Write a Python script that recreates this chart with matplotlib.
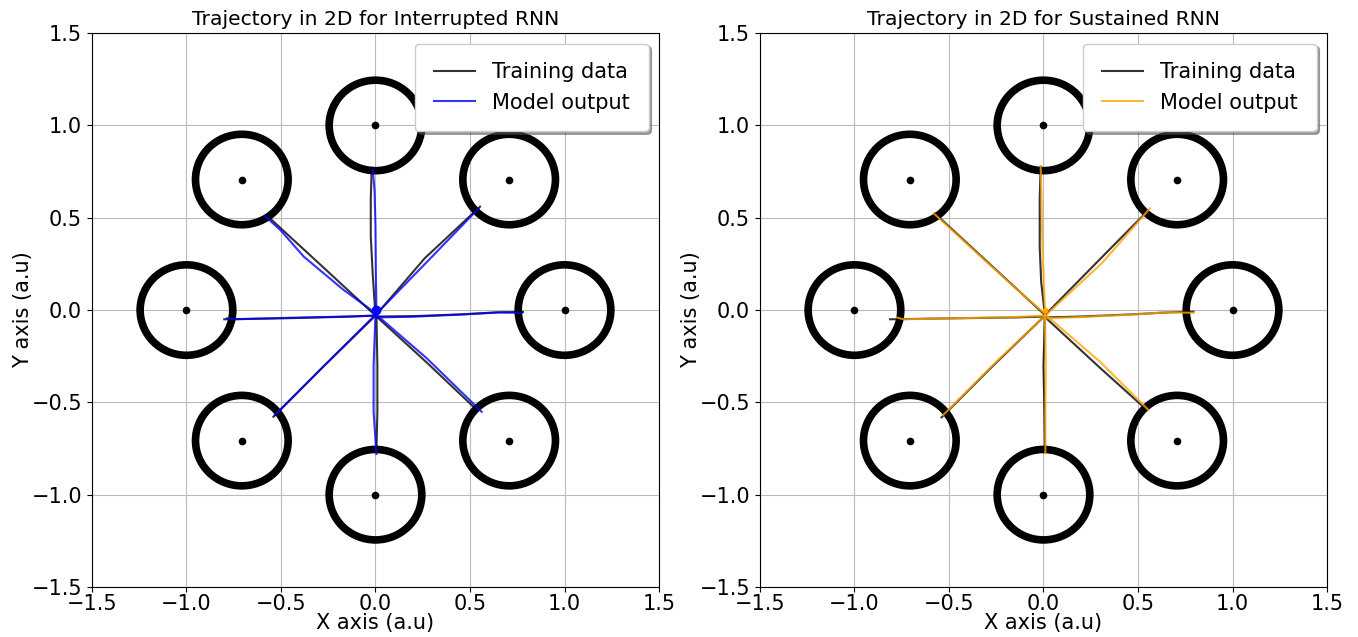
import numpy as np
import matplotlib
matplotlib.use("Agg")
import matplotlib.pyplot as plt
from matplotlib.patches import Circle

# target layout: 8 targets on the unit circle, each with a ring around it
target_angles = [0, 45, 90, 135, 180, 225, 270, 315]
target_dist = 1.0
ring_radius = 0.245

# trajectories, one (xs, ys) pair per reach direction
# order: right, up-right, up, up-left, left, down-left, down, down-right
train_interrupted = [
    ([0.0, 0.2, 0.46, 0.65, 0.78], [-0.035, -0.033, -0.023, -0.012, -0.01]),
    ([0.0, 0.26, 0.553], [-0.03, 0.28, 0.56]),
    ([0.0, -0.015, -0.025, -0.025, -0.02], [-0.03, 0.2, 0.4, 0.6, 0.77]),
    ([0.0, -0.28, -0.567], [-0.03, 0.235, 0.505]),
    ([0.0, -0.15, -0.5, -0.8], [-0.03, -0.036, -0.045, -0.05]),
    ([0.0, -0.27, -0.54], [-0.03, -0.30, -0.578]),
    ([0.005, 0.01, 0.01, 0.005], [-0.03, -0.3, -0.55, -0.765]),
    ([0.0, 0.27, 0.53], [-0.03, -0.283, -0.535]),
]
model_interrupted = [
    ([0.005, 0.2, 0.46, 0.65, 0.775], [-0.04, -0.036, -0.024, -0.013, -0.015]),
    ([0.005, 0.30, 0.545], [-0.02, 0.29, 0.55]),
    ([0.005, 0.002, 0.0, -0.005, -0.015], [0.0, 0.2, 0.45, 0.65, 0.76]),
    ([0.005, -0.17, -0.38, -0.50, -0.585], [-0.02, 0.11, 0.29, 0.43, 0.51]),
    ([0.0, -0.15, -0.5, -0.74, -0.787], [-0.03, -0.035, -0.043, -0.05, -0.045]),
    ([0.0, -0.26, -0.532], [-0.025, -0.29, -0.568]),
    ([0.0, -0.01, -0.01, 0.005], [-0.03, -0.3, -0.55, -0.78]),
    ([0.01, 0.27, 0.562], [-0.03, -0.26, -0.551]),
]
train_sustained = [
    ([0.008, 0.2, 0.475, 0.65, 0.793], [-0.04, -0.035, -0.023, -0.013, -0.009]),
    ([0.008, 0.277, 0.546], [-0.027, 0.253, 0.532]),
    ([0.008, -0.012, -0.02, -0.02, -0.015], [-0.03, 0.15, 0.34, 0.6, 0.776]),
    ([0.008, -0.288, -0.574], [-0.027, 0.253, 0.523]),
    ([0.008, -0.15, -0.495, -0.812], [-0.035, -0.04, -0.045, -0.05]),
    ([0.008, -0.27, -0.539], [-0.03, -0.305, -0.581]),
    ([0.008, 0.0, 0.005, 0.008], [-0.03, -0.3, -0.55, -0.767]),
    ([0.01, 0.299, 0.537], [-0.04, -0.313, -0.532]),
]
model_sustained = [
    ([0.008, 0.2, 0.475, 0.65, 0.793], [-0.045, -0.038, -0.024, -0.012, -0.015]),
    ([0.02, 0.308, 0.563], [-0.02, 0.253, 0.551]),
    ([0.008, 0.0, -0.006, -0.01, -0.015], [0.0, 0.2, 0.34, 0.6, 0.78]),
    ([0.008, -0.15, -0.295, -0.58], [-0.02, 0.12, 0.255, 0.523]),
    ([0.008, -0.15, -0.495, -0.74, -0.777], [-0.03, -0.038, -0.045, -0.05, -0.04]),
    ([0.008, -0.26, -0.53], [-0.03, -0.29, -0.568]),
    ([0.008, 0.012, 0.01, 0.01], [-0.03, -0.3, -0.55, -0.775]),
    ([0.01, 0.299, 0.555], [-0.025, -0.28, -0.541]),
]

ticks = [-1.5, -1.0, -0.5, 0.0, 0.5, 1.0, 1.5]

plt.rcParams["font.size"] = 15


def draw_panel(ax, train, model, color, title, blob_size):
    for ang in target_angles:
        tx = target_dist * np.cos(np.radians(ang))
        ty = target_dist * np.sin(np.radians(ang))
        ax.add_patch(Circle((tx, ty), ring_radius, fill=False, ec="black", lw=5.5, zorder=2))
        ax.plot(tx, ty, "o", color="black", ms=4.5, zorder=3)

    for i, (xs, ys) in enumerate(train):
        ax.plot(xs, ys, color="black", lw=1.5, alpha=0.8, zorder=4,
                label="Training data" if i == 0 else None)
    for i, (xs, ys) in enumerate(model):
        ax.plot(xs, ys, color=color, lw=1.5, alpha=0.8, zorder=5,
                label="Model output" if i == 0 else None)
    # start of the upward reach marks the common origin
    ax.plot(model[2][0][0], model[2][1][0], "o", color=color, ms=blob_size, zorder=6)

    ax.set_xlim(-1.5, 1.5)
    ax.set_ylim(-1.5, 1.5)
    ax.set_xticks(ticks)
    ax.set_yticks(ticks)
    ax.tick_params(axis="x", pad=1.5)
    ax.grid(True, color="#bbbbbb", lw=0.8)
    ax.set_axisbelow(True)
    ax.set_title(title, fontsize=14.6)
    ax.set_xlabel("X axis (a.u)", labelpad=-1)
    ax.set_ylabel("Y axis (a.u)", labelpad=-1)
    ax.legend(loc="upper right", shadow=True, fontsize=15, borderpad=0.9)


fig = plt.figure(figsize=(13.58, 6.37), dpi=100)
ax1 = fig.add_axes([0.0677, 0.0785, 0.4176, 0.8695])
ax2 = fig.add_axes([0.5596, 0.0785, 0.4176, 0.8695])

draw_panel(ax1, train_interrupted, model_interrupted, "blue",
           "Trajectory in 2D for Interrupted RNN", 6)
draw_panel(ax2, train_sustained, model_sustained, "orange",
           "Trajectory in 2D for Sustained RNN", 3)

fig.savefig("out.png", dpi=100)
